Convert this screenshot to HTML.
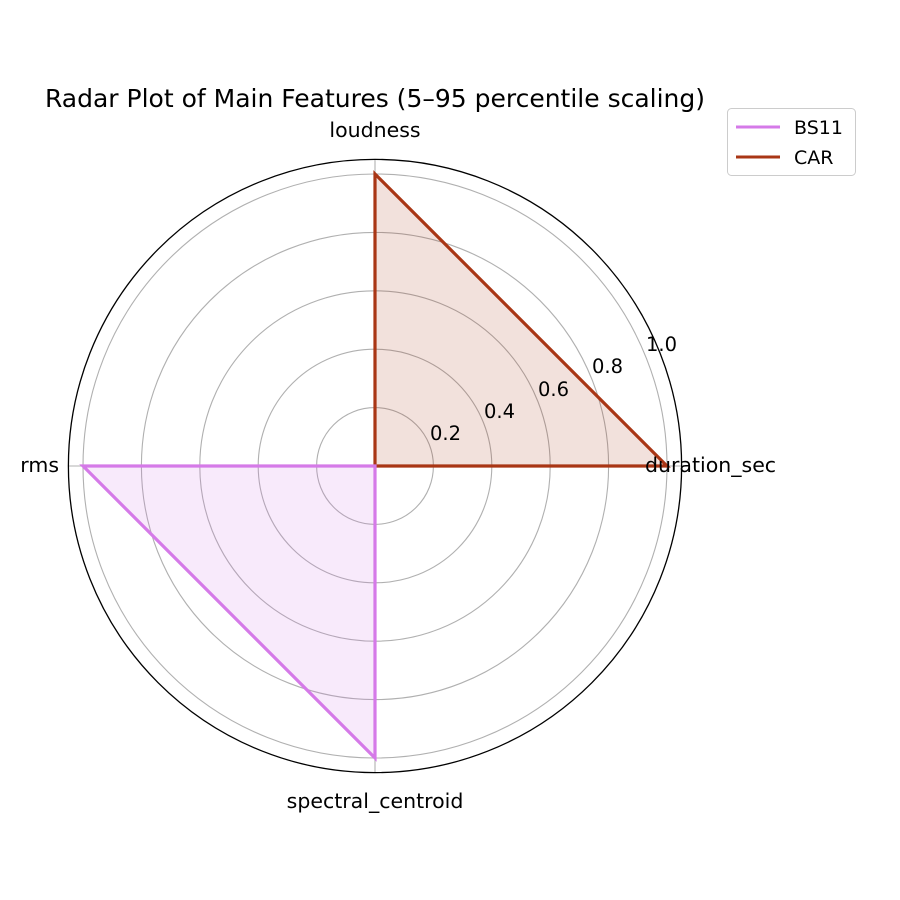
<!DOCTYPE html>
<html><head><meta charset="utf-8"><style>body{margin:0;background:#fff}svg{display:block}</style></head>
<body>
<svg width="900" height="900" viewBox="0 0 900 900" xmlns="http://www.w3.org/2000/svg" font-family="'DejaVu Sans','Liberation Sans',sans-serif">
<rect width="900" height="900" fill="#fff"/>
<g fill="none" stroke="#b0b0b0" stroke-width="1.1">
<circle cx="375" cy="466" r="58.4"/>
<circle cx="375" cy="466" r="116.8"/>
<circle cx="375" cy="466" r="175.2"/>
<circle cx="375" cy="466" r="233.6"/>
<circle cx="375" cy="466" r="292"/>
<line x1="375" y1="466" x2="375" y2="159.4"/>
<line x1="375" y1="466" x2="681.6" y2="466"/>
<line x1="375" y1="466" x2="375" y2="772.6"/>
<line x1="375" y1="466" x2="68.4" y2="466"/>
</g>
<polygon points="667,466 375,174 375,466" fill="#a93615" fill-opacity="0.15"/>
<polygon points="375,466 83,466 375,758" fill="#d57ae8" fill-opacity="0.16"/>
<polygon points="667,466 375,174 375,466" fill="none" stroke="#a93615" stroke-width="3.2"/>
<polygon points="375,466 83,466 375,758" fill="none" stroke="#d57ae8" stroke-width="3.2"/>
<circle cx="375" cy="466" r="306.6" fill="none" stroke="#000" stroke-width="1.3"/>
<g font-size="19.5" fill="#000">
<text x="430" y="440">0.2</text>
<text x="484" y="418">0.4</text>
<text x="538" y="396">0.6</text>
<text x="592" y="373">0.8</text>
<text x="646" y="351">1.0</text>
</g>
<g font-size="20.5" fill="#000">
<text x="375" y="137" text-anchor="middle">loudness</text>
<text x="645" y="472">duration_sec</text>
<text x="375" y="808" text-anchor="middle">spectral_centroid</text>
<text x="59" y="472" text-anchor="end">rms</text>
</g>
<text x="375" y="107" font-size="25" text-anchor="middle">Radar Plot of Main Features (5–95 percentile scaling)</text>
<rect x="727.5" y="108.5" width="128" height="67" rx="4" fill="#fff" stroke="#ccc"/>
<line x1="736" y1="127" x2="780" y2="127" stroke="#d57ae8" stroke-width="3"/>
<line x1="736" y1="157" x2="780" y2="157" stroke="#a93615" stroke-width="3"/>
<text x="794" y="134" font-size="19">BS11</text>
<text x="794" y="164" font-size="19">CAR</text>
</svg>
</body></html>
